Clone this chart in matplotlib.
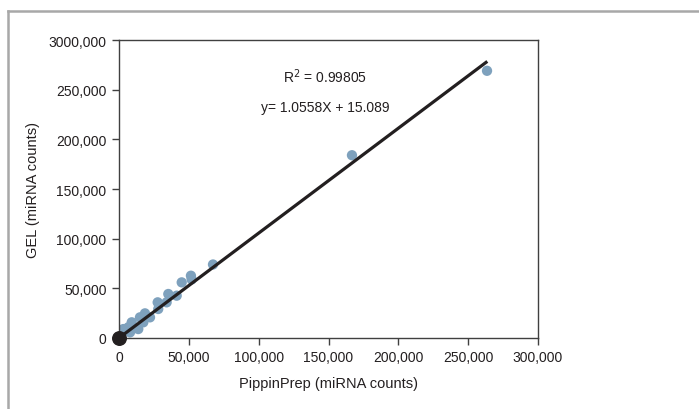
import matplotlib
matplotlib.use("Agg")
import matplotlib.pyplot as plt
from matplotlib.lines import Line2D
from matplotlib.ticker import FuncFormatter

plt.rcParams['font.family'] = ['Liberation Sans Narrow', 'Liberation Sans', 'DejaVu Sans']

# PippinPrep vs GEL miRNA counts
pippin = [3100, 6700, 7900, 9100, 13800, 15000, 17400, 18600, 22200, 27700,
          28100, 34100, 35300, 41300, 44900, 51500, 52000, 67300, 166800, 263500]
gel = [9000, 10800, 5700, 15800, 9000, 20800, 15800, 24800, 20800, 35900,
       29200, 35900, 44300, 42600, 56000, 62700, 59000, 74000, 184000, 269000]
origin_x = [0]
origin_y = [0]

slope = 1.0558
intercept = 15.089
fit_x = [0, 263700]

x_ticks = [0, 50000, 100000, 150000, 200000, 250000, 300000]
y_ticks = [0, 50000, 100000, 150000, 200000, 250000, 300000]
y_tick_labels = ['0', '50,000', '100,000', '150,000', '200,000', '250,000', '3000,000']

fig = plt.figure(figsize=(6.99, 4.10), dpi=100)
ax = fig.add_axes([119 / 699, 1 - 339 / 410, 419 / 699, 298 / 410])

ax.scatter(pippin, gel, s=55, color='#7ea1bd', edgecolors='none', zorder=2)
fit_y = [slope * v + intercept for v in fit_x]
ax.plot(fit_x, fit_y, color='#231f20', lw=2.3, zorder=3, solid_capstyle='butt')
ax.scatter(origin_x, origin_y, s=95, color='#231f20', zorder=4, clip_on=False)

ax.set_xlim(0, 300000)
ax.set_ylim(0, 300000)
ax.set_xticks(x_ticks)
ax.set_yticks(y_ticks)
ax.xaxis.set_major_formatter(FuncFormatter(lambda v, p: f'{int(v):,}'))
ax.set_yticklabels(y_tick_labels)
ax.tick_params(direction='out', length=5, width=1, color='#404040',
               labelsize=10, labelcolor='#231f20', pad=4)

for sp in ax.spines.values():
    sp.set_color('#404040')
    sp.set_linewidth(1)

ax.set_xlabel('PippinPrep (miRNA counts)', fontsize=10.5, color='#231f20', labelpad=8)
ax.set_ylabel('GEL (miRNA counts)', fontsize=10.5, color='#231f20', labelpad=6)

ax.text(147500, 264000, 'R$^2$ = 0.99805', fontsize=10, ha='center', va='center',
        color='#231f20')
ax.text(147500, 232500, 'y= 1.0558X + 15.089', fontsize=10, ha='center', va='center',
        color='#231f20')

# outer gray frame (open at right and bottom)
fig.add_artist(Line2D([8 / 699, 1], [1 - 12 / 410, 1 - 12 / 410], color='#a8a8a8',
                      lw=1.8, transform=fig.transFigure))
fig.add_artist(Line2D([8 / 699, 8 / 699], [0, 1 - 12 / 410], color='#a8a8a8',
                      lw=1.8, transform=fig.transFigure))

fig.savefig('out.png', dpi=100)
